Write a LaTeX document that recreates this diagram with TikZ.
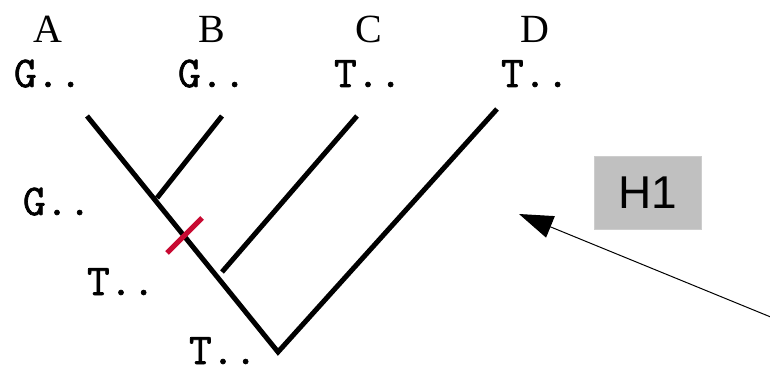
\documentclass[tikz,border=0pt]{standalone}
\usepackage{fontspec}
\setmainfont{Liberation Serif}
\newfontfamily\monofam[FakeBold=1.5]{Latin Modern Mono}
\newfontfamily\sansfam{Liberation Sans}
\usetikzlibrary{arrows.meta}
\definecolor{mutred}{RGB}{200,10,50}
\definecolor{boxgray}{RGB}{192,192,192}
\begin{document}
\begin{tikzpicture}[x=1pt,y=-1pt,
  taxon/.style={inner sep=0pt,anchor=base,font=\fontsize{40}{40}\selectfont},
  seq/.style={inner sep=0pt,anchor=base,font=\monofam\fontsize{44}{44}\selectfont},
  branch/.style={line width=5pt,black},
  mutation/.style={line width=5pt,mutred},
  hbox/.style={fill=boxgray,draw=boxgray!80!white,line width=0.8pt,minimum width=107pt,minimum height=73pt,inner sep=0pt,font=\sansfam\fontsize{46}{46}\selectfont},
  pointer/.style={line width=1pt,-{Triangle[length=34pt,width=23pt]}}]
\clip (0,0) rectangle (770,366);
\fill[white] (0,0) rectangle (770,366);
% taxon names
\node[taxon] (nA) at (48,43) {A};
\node[taxon] (nB) at (212,43) {B};
\node[taxon] (nC) at (369,43) {C};
\node[taxon] (nD) at (535,43) {D};
% leaf states
\node[seq] (sA) at (48,87) {G..};
\node[seq] (sB) at (212,87) {G..};
\node[seq] (sC) at (368,87) {T..};
\node[seq] (sD) at (535,87) {T..};
% ancestral states
\node[seq] (sAB) at (57,215) {G..};
\node[seq] (sABC) at (121,295) {T..};
\node[seq] (sRoot) at (223,364) {T..};
% tree
\coordinate (tA) at (87,116);
\coordinate (tB) at (222,116);
\coordinate (tC) at (357,116);
\coordinate (tD) at (497,109);
\coordinate (jAB) at (157,198);
\coordinate (jC) at (222,272);
\coordinate (root) at (278,352);
\draw[branch] (tA) -- (root) -- (tD);
\draw[branch] (tB) -- (jAB);
\draw[branch] (tC) -- (jC);
% mutation mark
\coordinate (m1) at (167,253);
\coordinate (m2) at (202,218);
\draw[mutation] (m1) -- (m2);
% hypothesis box and pointer
\node[hbox] (h1) at (647.5,192.5) {H1};
\coordinate (ptrStart) at (800,329);
\coordinate (ptrEnd) at (519,214);
\draw[pointer] (ptrStart) -- (ptrEnd);
\end{tikzpicture}
\end{document}
